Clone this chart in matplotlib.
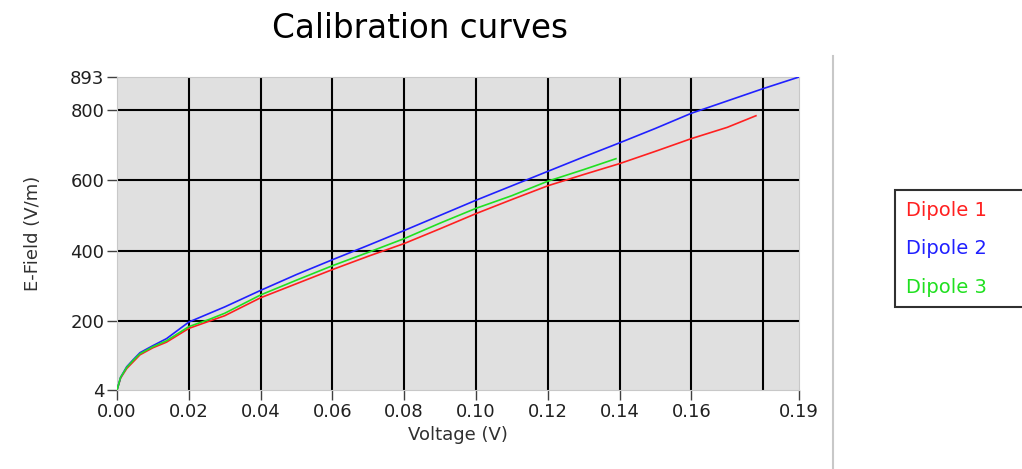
import matplotlib.pyplot as plt
from matplotlib.lines import Line2D

# Values
voltage = [0, 0.001, 0.0027, 0.0045, 0.0064, 0.01, 0.0138, 0.02, 0.0258, 0.03,
           0.04, 0.05, 0.06, 0.07, 0.08, 0.09, 0.10, 0.11, 0.12, 0.13, 0.14,
           0.15, 0.16, 0.17, 0.18, 0.19]
dipole2 = [4, 40, 70, 90, 110, 130, 150, 197, 222, 240, 287, 332, 374, 415,
           457, 500, 543, 584, 625, 666, 706, 747, 790, 825, 860, 893]
voltage1 = voltage[:24] + [0.178]
dipole1 = [4, 38, 65, 84, 104, 124, 140, 179, 200, 215, 266, 306, 346, 384,
           420, 462, 505, 545, 584, 616, 647, 682, 718, 750, 783]
voltage3 = voltage[:20] + [0.139]
dipole3 = [4, 40, 68, 88, 107, 127, 144, 184, 205, 222, 274, 316, 357, 395,
           434, 478, 520, 556, 597, 630, 661]

xticks = [0.00, 0.02, 0.04, 0.06, 0.08, 0.10, 0.12, 0.14, 0.16, 0.19]
xgrid = [0.02, 0.04, 0.06, 0.08, 0.10, 0.12, 0.14, 0.16, 0.18]
yticks = [4, 200, 400, 600, 800, 893]
ygrid = [200, 400, 600, 800]

plt.rcParams['font.family'] = ['DejaVu Sans']

fig = plt.figure(figsize=(10.22, 4.69), dpi=100)
ax = fig.add_axes([0.1145, 0.1684, 0.6673, 0.6674])
ax.set_facecolor('#e0e0e0')

for g in xgrid:
    ax.axvline(g, color='black', lw=1.5, zorder=1)
for g in ygrid:
    ax.axhline(g, color='black', lw=1.5, zorder=1)

ax.plot(voltage1, dipole1, color='#ff2020', lw=1.2, label='Dipole 1', zorder=3)
ax.plot(voltage, dipole2, color='#2020ff', lw=1.2, label='Dipole 2', zorder=3)
ax.plot(voltage3, dipole3, color='#20e020', lw=1.2, label='Dipole 3', zorder=3)

ax.set_xlim(0, 0.19)
ax.set_ylim(4, 893)
ax.set_xticks(xticks)
ax.set_xticklabels(['%.2f' % t for t in xticks])
ax.set_yticks(yticks)
ax.tick_params(axis='both', labelsize=13, length=7, width=1, color='#404040',
               labelcolor='#202020', pad=2)
for s in ax.spines.values():
    s.set_color('#c8c8c8')

ax.set_xlabel('Voltage (V)', fontsize=13, color='#303030', labelpad=4)
ax.set_ylabel('E-Field (V/m)', fontsize=13, color='#303030', labelpad=20)
fig.text(0.411, 0.94, 'Calibration curves', fontsize=23.5, ha='center', va='center')

# separator line right of the plot
fig.add_artist(Line2D([0.815, 0.815], [0.0, 0.88], color='#c8c8c8', lw=1.5))

leg = fig.legend(loc='upper left', bbox_to_anchor=(0.876, 0.33, 0.16, 0.265),
                 mode='expand', borderaxespad=0, handlelength=0, handletextpad=0,
                 fancybox=False, edgecolor='#303030', fontsize=14, borderpad=0.55,
                 labelspacing=1.0, framealpha=1)
leg.get_frame().set_linewidth(1.5)
for line, text in zip(leg.get_lines(), leg.get_texts()):
    line.set_visible(False)
    text.set_color(line.get_color())

fig.savefig('out.png', dpi=100)
